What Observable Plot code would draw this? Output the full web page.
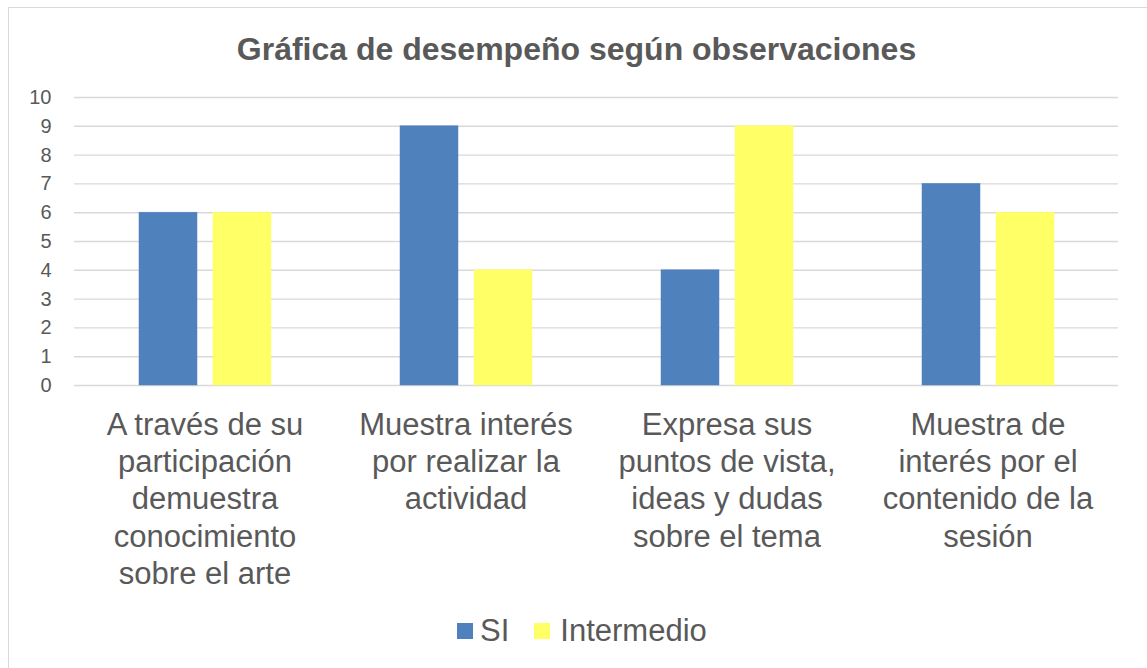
<!DOCTYPE html>
<html>
<head>
<meta charset="utf-8">
<script src="https://cdn.jsdelivr.net/npm/d3@7"></script>
<script src="https://cdn.jsdelivr.net/npm/@observablehq/plot@0.6"></script>
<style>
  html, body { margin: 0; padding: 0; background: #fff; }
  body { width: 1147px; height: 668px; position: relative; overflow: hidden;
         font-family: "Liberation Sans", Arial, sans-serif; color: #595959; }
  #frame { position: absolute; left: 8px; top: 7px; width: 1160px; height: 700px;
           border: 1.3px solid #d9d9d9; box-sizing: border-box; }
  #title { position: absolute; left: 3px; top: 33px; width: 1147px; text-align: center;
           font-size: 32px; font-weight: bold; line-height: 32px; white-space: nowrap; }
  #chart { position: absolute; left: 0; top: 80px; }
  #legend { position: absolute; left: 457px; top: 614px; display: flex; align-items: center;
            font-size: 31px; line-height: 34px; white-space: nowrap; }
  .sw { width: 16px; height: 16px; display: inline-block; }
</style>
</head>
<body>
<div id="frame"></div>
<div id="title"></div>
<div id="chart"></div>
<div id="legend"></div>
<script>
const title = "Gráfica de desempeño según observaciones";
const categories = [
  "A través de su participación demuestra conocimiento sobre el arte",
  "Muestra interés por realizar la actividad",
  "Expresa sus puntos de vista, ideas y dudas sobre el tema",
  "Muestra de interés por el contenido de la sesión"
];
const categoryLabels = [
  "A través de su\nparticipación\ndemuestra\nconocimiento\nsobre el arte",
  "Muestra interés\npor realizar la\nactividad",
  "Expresa sus\npuntos de vista,\nideas y dudas\nsobre el tema",
  "Muestra de\ninterés por el\ncontenido de la\nsesión"
];
const series = ["SI", "Intermedio"];
const colors = ["#4f81bd", "#ffff66"];
const siValues = [6, 9, 4, 7];
const intermedioValues = [6, 4, 9, 6];
const yTicks = [0, 1, 2, 3, 4, 5, 6, 7, 8, 9, 10];

const valuesBySeries = [siValues, intermedioValues];
const data = [];
categories.forEach((c, i) => {
  series.forEach((s, j) => data.push({category: c, series: s, value: valuesBySeries[j][i]}));
});

document.getElementById("title").textContent = title;

const chart = Plot.plot({
  width: 1147,
  height: 530,
  marginLeft: 72,
  marginRight: 28,
  marginTop: 17,
  marginBottom: 225,
  style: {fontFamily: '"Liberation Sans", Arial, sans-serif', color: "#595959", background: "transparent", overflow: "visible"},
  fx: {domain: categories, padding: 0, axis: null, label: null},
  x: {domain: series, paddingInner: 0.222, paddingOuter: 0.868, axis: null, label: null},
  y: {domain: [0, 10], ticks: yTicks, axis: null, label: null},
  color: {domain: series, range: colors},
  marks: [
    Plot.ruleY(yTicks, {y: d => d, stroke: "#d9d9d9", strokeWidth: 1.4}),
    Plot.barY(data, {fx: "category", x: "series", y: "value", fill: "series", stroke: "series", strokeWidth: 0.5}),
    Plot.axisY({ticks: yTicks, tickSize: 0, tickPadding: 23, fontSize: 20, label: null, tickFormat: d => String(d), fill: "#595959"}),
    Plot.text(categories, {
      fx: d => d,
      text: (d, i) => categoryLabels[i],
      frameAnchor: "bottom",
      lineAnchor: "top",
      dy: 23,
      fontSize: 31,
      lineHeight: 1.2,
      fill: "#595959"
    })
  ]
});
document.getElementById("chart").appendChild(chart);

const legend = document.getElementById("legend");
series.forEach((s, i) => {
  const sw = document.createElement("span");
  sw.className = "sw";
  sw.style.background = colors[i];
  sw.style.marginLeft = i === 0 ? "0px" : "25px";
  sw.style.marginRight = i === 0 ? "7px" : "10px";
  legend.appendChild(sw);
  const t = document.createElement("span");
  t.textContent = s;
  legend.appendChild(t);
});
</script>
</body>
</html>
